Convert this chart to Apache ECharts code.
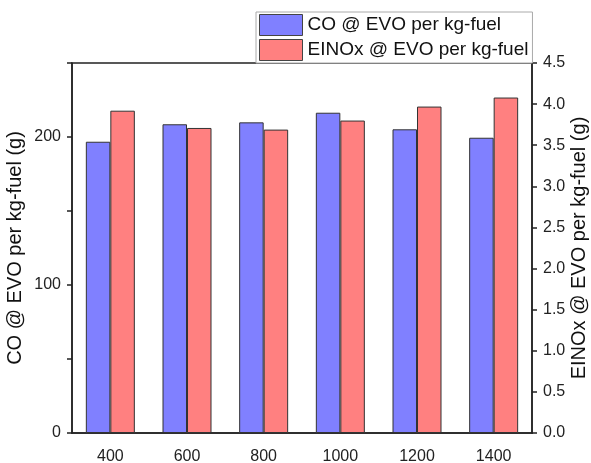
<!DOCTYPE html>
<html>
<head>
<meta charset="utf-8">
<script src="https://cdn.jsdelivr.net/npm/echarts@6/dist/echarts.min.js"></script>
<style>html,body{margin:0;padding:0;background:#fff;}#c{width:591px;height:463px;}</style>
</head>
<body>
<div id="c"></div>
<script>
const categories = ['400', '600', '800', '1000', '1200', '1400'];
const coValues = [196.8, 208.6, 209.9, 216.4, 205.2, 199.5];
const einoxValues = [3.92, 3.71, 3.69, 3.80, 3.97, 4.08];
const leftTicks = [0, 100, 200];
const coName = 'CO @ EVO per kg-fuel';
const einoxName = 'EINOx @ EVO per kg-fuel';
const leftTitle = 'CO @ EVO per kg-fuel (g)';
const rightTitle = 'EINOx @ EVO per kg-fuel (g)';

const FONT = '"Liberation Sans", Arial, sans-serif';
const AX = '#222';
const chart = echarts.init(document.getElementById('c'), null, {renderer: 'canvas'});
chart.setOption({
  animation: false,
  backgroundColor: '#fff',
  textStyle: {fontFamily: FONT},
  grid: {left: 72, right: 59, top: 63, bottom: 30, containLabel: false, outerBoundsMode: 'none',
    show: true, borderColor: AX, borderWidth: 1.5, backgroundColor: 'transparent'},
  legend: {
    orient: 'vertical', left: 256, top: 12,
    icon: 'rect',
    itemWidth: 43, itemHeight: 21, itemGap: 3,
    padding: [2, 4, 2, 3],
    backgroundColor: '#fff', borderColor: '#aaa', borderWidth: 1,
    itemStyle: {borderWidth: 1, borderColor: '#444'},
    textStyle: {fontSize: 19, color: '#111', fontFamily: FONT},
    data: [coName, einoxName]
  },
  xAxis: {
    type: 'category', data: categories,
    axisLine: {lineStyle: {color: AX, width: 1.5}},
    axisTick: {alignWithLabel: true, length: 5, lineStyle: {color: AX, width: 1.5}},
    axisLabel: {fontSize: 16, color: '#222', margin: 16, fontFamily: FONT}
  },
  yAxis: [{
    type: 'value', min: 0, max: 250, interval: 50,
    name: leftTitle, nameLocation: 'middle', nameGap: 47, nameMoveOverlap: false,
    nameTextStyle: {fontSize: 20, color: '#111', fontFamily: FONT},
    axisLine: {show: true, lineStyle: {color: AX, width: 1.5}},
    axisTick: {show: true, length: 5, lineStyle: {color: AX, width: 1.5}},
    axisLabel: {fontSize: 16, color: '#222', margin: 11, fontFamily: FONT,
      formatter: v => leftTicks.indexOf(v) >= 0 ? String(v) : ''},
    splitLine: {show: false}
  }, {
    type: 'value', min: 0, max: 4.5, interval: 0.5, position: 'right',
    name: rightTitle, nameLocation: 'middle', nameGap: 37, nameMoveOverlap: false,
    nameTextStyle: {fontSize: 20, color: '#111', fontFamily: FONT},
    axisLine: {show: true, lineStyle: {color: AX, width: 1.5}},
    axisTick: {show: true, length: 5, lineStyle: {color: AX, width: 1.5}},
    axisLabel: {fontSize: 16, color: '#222', margin: 11, fontFamily: FONT,
      formatter: v => v.toFixed(1)},
    splitLine: {show: false}
  }],
  series: [{
    name: coName, type: 'bar', yAxisIndex: 0, data: coValues,
    barWidth: 24.5, barGap: '0%',
    itemStyle: {color: '#8080FF', borderColor: '#333', borderWidth: 1}
  }, {
    name: einoxName, type: 'bar', yAxisIndex: 1, data: einoxValues,
    barWidth: 24.5, barGap: '0%',
    itemStyle: {color: '#FF8080', borderColor: '#333', borderWidth: 1}
  }]
});
</script>
</body>
</html>
